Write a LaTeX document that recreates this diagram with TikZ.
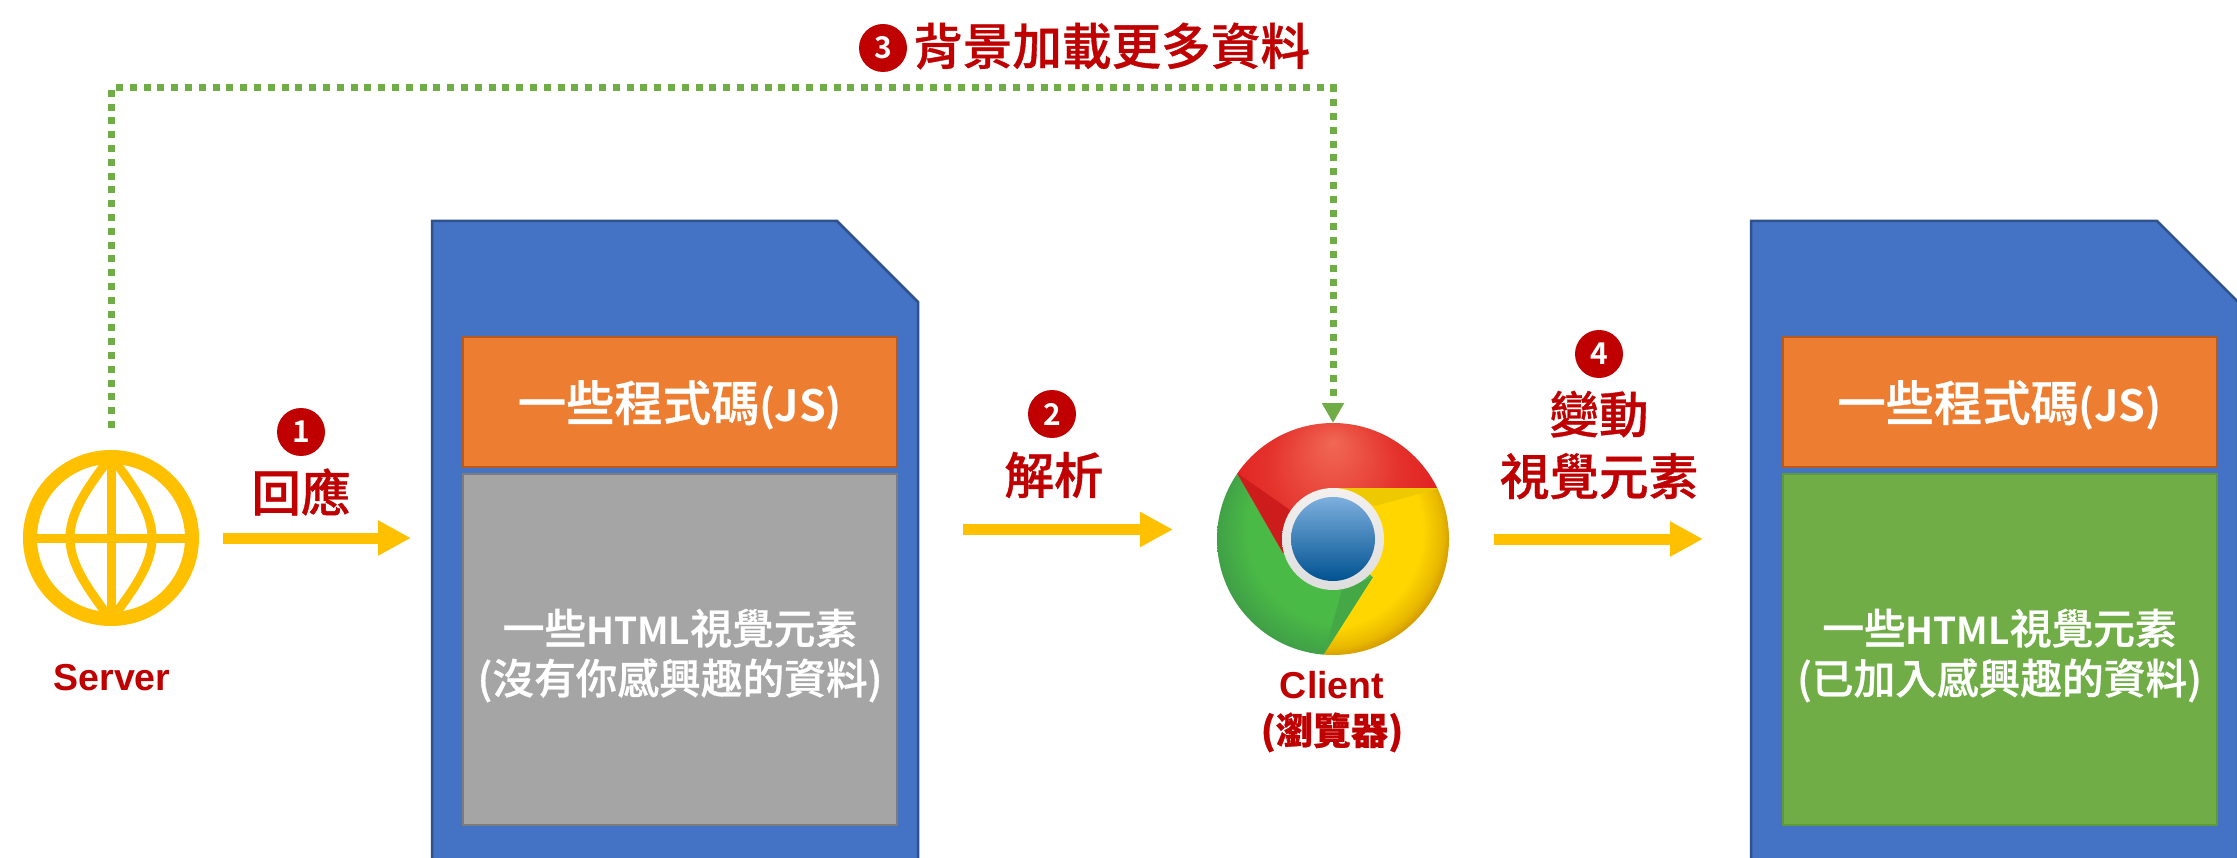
\documentclass[tikz,border=0pt]{standalone}
\usepackage{fontspec}
\setmainfont{Liberation Sans}
\newfontfamily\cjk[FakeBold=0.7]{Noto Sans CJK TC Medium}
\newfontfamily\cjkb{Noto Sans CJK TC Bold}
\usetikzlibrary{arrows.meta,calc}
\definecolor{docblue}{HTML}{4472C4}
\definecolor{docline}{HTML}{2F528F}
\definecolor{orgfill}{HTML}{ED7D31}
\definecolor{orgline}{HTML}{B85A1E}
\definecolor{grayfill}{HTML}{A5A5A5}
\definecolor{grayline}{HTML}{7C7C7C}
\definecolor{grnfill}{HTML}{70AD47}
\definecolor{grnline}{HTML}{5E9A3A}
\definecolor{gold}{HTML}{FFC000}
\definecolor{darkred}{HTML}{C00000}
\definecolor{crA}{HTML}{F16854}
\definecolor{crB}{HTML}{E4322C}
\definecolor{crC}{HTML}{E11E1E}
\definecolor{cyA}{HTML}{FFD600}
\definecolor{cyB}{HTML}{E8B800}
\definecolor{cyC}{HTML}{BE7800}
\definecolor{cgA}{HTML}{4ABA46}
\definecolor{cgB}{HTML}{3C9646}
\definecolor{crS}{HTML}{CC1C1C}
\definecolor{cyS}{HTML}{EEC900}
\definecolor{cgS}{HTML}{43A845}
\definecolor{ringT}{HTML}{F3F0EE}
\definecolor{ringB}{HTML}{DEDEDE}
\definecolor{bluT}{HTML}{7DAFDE}
\definecolor{bluM}{HTML}{3E82B8}
\definecolor{bluB}{HTML}{005291}
\pgfdeclareradialshading{chromered}{\pgfpoint{0bp}{21bp}}{color(0bp)=(crA);color(14bp)=(crB);color(25bp)=(crC);color(50bp)=(crC)}
\pgfdeclareradialshading{chromeyellow}{\pgfpoint{-3bp}{3bp}}{color(0bp)=(cyA);color(21bp)=(cyA);color(25bp)=(cyB);color(29bp)=(cyC);color(50bp)=(cyC)}
\pgfdeclareradialshading{chromegreen}{\pgfpoint{3bp}{3bp}}{color(0bp)=(cgA);color(20bp)=(cgA);color(29bp)=(cgB);color(50bp)=(cgB)}
\tikzset{
  x=1pt,y=-1pt,
  docbody/.style={fill=docblue,draw=docline,line width=2.5pt,line join=miter},
  panel/.style={rectangle,inner sep=0pt,outer sep=0pt,line width=2pt,text=white,align=center,anchor=north west},
  codebox/.style={panel,fill=orgfill,draw=orgline,font=\cjk\fontsize{48.3}{50}\selectfont,minimum width=434pt,minimum height=130pt},
  viewbox/.style={panel,font=\cjk\fontsize{41.7}{50}\selectfont,minimum width=434pt,minimum height=351pt},
  flow/.style={draw=gold,line width=11pt,-{Triangle[length=33pt,width=33pt]}},
  dotted link/.style={draw=grnfill,line width=7pt,dash pattern=on 7pt off 6.8pt,-{Triangle[length=20pt,width=21pt,fill=grnfill]}},
  badge/.style={circle,fill=darkred,text=white,inner sep=0pt,minimum size=48pt,font=\cjkb\fontsize{30}{30}\selectfont},
  redcjk/.style={text=darkred,align=center,font=\cjk\fontsize{49.6}{62}\selectfont,inner sep=0pt},
  redlabel/.style={text=darkred,align=center,font=\fontsize{37.5}{47}\selectfont\bfseries,inner sep=0pt},
  anchorbox/.style={circle,inner sep=0pt,outer sep=0pt},
}
\newcommand{\lat}[2]{{\cjkb\fontsize{#1}{50}\selectfont #2}}
\newcommand{\codetext}{\raisebox{-19pt}[0pt][0pt]{一些程式碼\lat{43}{(JS)}}}
\newcommand{\viewtext}[1]{\raisebox{-44.5pt}[0pt][0pt]{\parbox[b]{425pt}{\centering 一些\lat{37}{HTML}視覺元素\\#1}}}
\begin{document}
\begin{tikzpicture}
\useasboundingbox (0,0) rectangle (2237,858);
\clip (0,0) rectangle (2237,858);
\fill[white] (0,0) rectangle (2237,858);

% documents
\draw[docbody] (432,221) -- (837,221) -- (918,302) -- (918,880) -- (432,880) -- cycle;
\draw[docbody] (1751,221) -- (2157,221) -- (2238,302) -- (2238,880) -- (1751,880) -- cycle;
\node[anchorbox,rectangle,minimum width=486pt,minimum height=659pt,anchor=north west] (doca) at (432,221) {};
\node[anchorbox,rectangle,minimum width=486pt,minimum height=659pt,anchor=north west] (docb) at (1751,221) {};

\node[codebox] (codea) at (463,337) {\codetext};
\node[viewbox,fill=grayfill,draw=grayline] (viewa) at (463,474) {\viewtext{(沒有你感興趣的資料)}};
\node[codebox] (codeb) at (1782.5,337) {\codetext};
\node[viewbox,fill=grnfill,draw=grnline] (viewb) at (1782.5,474) {\viewtext{(已加入感興趣的資料)}};

% server globe
\node[circle,draw=gold,line width=14pt,minimum size=162pt,inner sep=0pt,outer sep=7pt] (server) at (111,538) {};
\begin{scope}
\clip (server.center) circle (80pt);
\draw[gold,line width=9pt] (111,450) -- (111,626);
\draw[gold,line width=9pt] (23,538) -- (199,538);
\draw[gold,line width=9pt] (111,456) .. controls (90,485) and (70,510) .. (70,538) .. controls (70,566) and (90,591) .. (111,620);
\draw[gold,line width=9pt] (111,456) .. controls (132,485) and (152,510) .. (152,538) .. controls (152,566) and (132,591) .. (111,620);
\end{scope}

% chrome logo
\node[anchorbox,minimum size=232pt] (chrome) at (1333,539) {};
\begin{scope}
\clip (chrome.center) circle (116pt);
\begin{scope}
\clip (1333,539) -- (1283,553) -- (1237,473) -- (1145,313) -- (1000,313) -- (1000,900) -- (1226,808) -- (1324,654) -- (1373,577) -- cycle;
\shade[shading=chromegreen] (1217,423) rectangle (1449,655);
\end{scope}
\begin{scope}
\clip (1333,539) -- (1373,577) -- (1324,654) -- (1226,808) -- (1600,808) -- (1600,488) -- (1333,488) -- cycle;
\shade[shading=chromeyellow] (1217,423) rectangle (1449,655);
\end{scope}
\begin{scope}
\clip (1333,539) -- (1333,488) -- (1600,488) -- (1600,250) -- (1100,250) -- (1145,313) -- (1237,473) -- (1283,553) -- cycle;
\shade[shading=chromered] (1217,423) rectangle (1449,655);
\end{scope}
\fill[crS] (1237,473) -- (1283,553) -- (1290,510) -- cycle;
\fill[cyS] (1333,488) -- (1440,488) -- (1375,506) -- cycle;
\fill[cgS] (1373,577) -- (1324,654) -- (1342,590) -- cycle;
\end{scope}
\shade[top color=ringT,bottom color=ringB] (chrome.center) circle (51pt);
\shade[top color=bluT,middle color=bluM,bottom color=bluB] (chrome.center) circle (42pt);

% connectors
\draw[flow] (server.east) [shorten <=24pt,shorten >=21pt] -- (server.east -| doca.west);
\draw[flow,shorten <=45pt,shorten >=44pt] ([yshift=21pt]doca.east) -- ([yshift=21pt]doca.east -| chrome.west);
\draw[flow,shorten <=161pt,shorten >=48pt] (chrome.center) -- (chrome.center -| docb.west);
\coordinate (bend) at (111,88);
\draw[dotted link,shorten <=22pt] (server.north) -- (bend) -| (chrome.north);

% labels
\node[redlabel] (serverlabel) at (112,678) {Server};
\node[redlabel,text depth=0pt] (clientlabel) at (1332,708) {Client\\[-1pt]{\cjk (瀏覽器)}};
\node[badge] (b1) at (301,432) {1};
\node[redcjk] (t1) at (301,492) {回應};
\node[badge] (b2) at (1052,414) {2};
\node[redcjk] (t2) at (1054,475) {解析};
\node[badge] (b3) at (883,48) {3};
\node[redcjk,anchor=west] (t3) at (913,46) {背景加載更多資料};
\node[badge] (b4) at (1599,354) {4};
\node[redcjk] (t4) at (1599,445) {變動\\視覺元素};
\end{tikzpicture}
\end{document}
